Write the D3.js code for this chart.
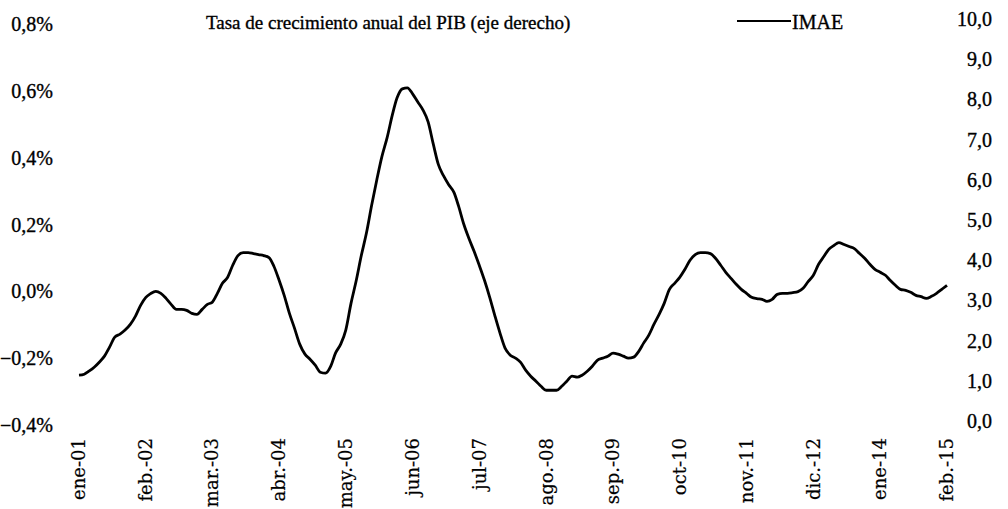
<!DOCTYPE html>
<html>
<head>
<meta charset="utf-8">
<script src="https://cdn.jsdelivr.net/npm/d3@7"></script>
<style>
  body { margin: 0; background: #fff; }
  svg text { font-family: "Liberation Serif", "DejaVu Serif", serif; fill: #000; stroke: #000; stroke-width: 0.35px; }
</style>
</head>
<body>
<svg id="chart" width="1008" height="509"></svg>
<script>
// IMAE, monthly from ene-01 to feb-15 (% values)
var imae = [
  -0.251, -0.248, -0.239, -0.227, -0.212, -0.194, -0.167, -0.137, -0.128, -0.116,
  -0.099, -0.075, -0.042, -0.018, -0.007, 0.000, -0.006, -0.021, -0.039, -0.054,
  -0.054, -0.057, -0.066, -0.069, -0.054, -0.039, -0.033, -0.006, 0.024, 0.042,
  0.078, 0.107, 0.116, 0.116, 0.113, 0.110, 0.107, 0.101, 0.075, 0.033,
  -0.012, -0.066, -0.110, -0.158, -0.188, -0.203, -0.221, -0.242, -0.245, -0.224,
  -0.185, -0.158, -0.116, -0.036, 0.030, 0.107, 0.176, 0.257, 0.334, 0.403,
  0.460, 0.528, 0.579, 0.606, 0.609, 0.591, 0.567, 0.543, 0.507, 0.442,
  0.379, 0.346, 0.319, 0.296, 0.254, 0.200, 0.158, 0.119, 0.078, 0.033,
  -0.018, -0.072, -0.125, -0.170, -0.191, -0.200, -0.212, -0.236, -0.254, -0.269,
  -0.284, -0.296, -0.296, -0.296, -0.284, -0.269, -0.254, -0.257, -0.251, -0.239,
  -0.224, -0.206, -0.200, -0.194, -0.185, -0.188, -0.194, -0.200, -0.197, -0.179,
  -0.155, -0.131, -0.099, -0.069, -0.036, 0.006, 0.024, 0.042, 0.066, 0.093,
  0.110, 0.116, 0.116, 0.113, 0.099, 0.078, 0.057, 0.039, 0.021, 0.006,
  -0.006, -0.018, -0.022, -0.024, -0.030, -0.024, -0.009, -0.006, -0.006, -0.004,
  -0.001, 0.009, 0.030, 0.048, 0.081, 0.104, 0.125, 0.137, 0.146, 0.140,
  0.134, 0.128, 0.113, 0.099, 0.081, 0.066, 0.057, 0.048, 0.033, 0.018,
  0.006, 0.003, -0.003, -0.012, -0.016, -0.021, -0.015, -0.006, 0.006, 0.018
];

var tickLabels = ["ene-01", "feb.-02", "mar.-03", "abr.-04", "may.-05", "jun-06", "jul-07",
  "ago.-08", "sep.-09", "oct-10", "nov.-11", "dic.-12", "ene-14", "feb.-15"];
var leftTicks = [0.8, 0.6, 0.4, 0.2, 0.0, -0.2, -0.4];
var rightTicks = [10, 9, 8, 7, 6, 5, 4, 3, 2, 1, 0];

var titleText = "Tasa de crecimiento anual del PIB (eje derecho)";
var legendText = "IMAE";

var start = new Date(2001, 0, 1);
var data = imae.map(function(v, i) {
  return { date: d3.timeMonth.offset(start, i), value: v };
});

var svg = d3.select("#chart");

var x = d3.scaleTime()
  .domain([start, d3.timeMonth.offset(start, imae.length - 1)])
  .range([79, 947]);

var y = d3.scaleLinear()
  .domain([-0.4, 0.8])
  .range([425, 24]);

var y2 = d3.scaleLinear()
  .domain([0, 10])
  .range([421, 19]);

var comma = d3.formatLocale({ decimal: ",", thousands: ".", grouping: [3], currency: ["", ""] });

// left axis labels
svg.append("g")
  .selectAll("text")
  .data(leftTicks)
  .enter().append("text")
  .attr("x", 53)
  .attr("y", function(d) { return y(d); })
  .attr("dy", "0.35em")
  .style("text-anchor", "end")
  .style("font-size", "20px")
  .text(function(d) { return comma.format(".1f")(d) + "%"; });

// right axis labels
svg.append("g")
  .selectAll("text")
  .data(rightTicks)
  .enter().append("text")
  .attr("x", 992)
  .attr("y", function(d) { return y2(d); })
  .attr("dy", "0.35em")
  .style("text-anchor", "end")
  .style("font-size", "20px")
  .text(function(d) { return comma.format(".1f")(d); });

// x labels, every 13 months
svg.append("g")
  .selectAll("text")
  .data(tickLabels)
  .enter().append("text")
  .attr("transform", function(d, i) {
    return "translate(" + x(d3.timeMonth.offset(start, i * 13)) + ",438) rotate(-90)";
  })
  .attr("dy", "0.35em")
  .style("text-anchor", "end")
  .style("font-family", "'DejaVu Serif', serif")
  .style("stroke-width", "0.2px")
  .style("font-size", "18px")
  .text(function(d) { return d; });

var line = d3.line()
  .x(function(d) { return x(d.date); })
  .y(function(d) { return y(d.value); })
  .curve(d3.curveMonotoneX);

svg.append("path")
  .attr("d", line(data))
  .style("fill", "none")
  .style("stroke", "#000")
  .style("stroke-width", 2.8)
  .style("stroke-linejoin", "round");

// title / legend
svg.append("text")
  .attr("x", 206)
  .attr("y", 22)
  .attr("dy", "0.35em")
  .style("font-size", "19px")
  .text(titleText);

svg.append("line")
  .attr("x1", 737).attr("x2", 791)
  .attr("y1", 21).attr("y2", 21)
  .style("stroke", "#000")
  .style("stroke-width", 2.2);

svg.append("text")
  .attr("x", 792)
  .attr("y", 22)
  .attr("dy", "0.35em")
  .style("font-size", "20px")
  .text(legendText);
</script>
</body>
</html>
